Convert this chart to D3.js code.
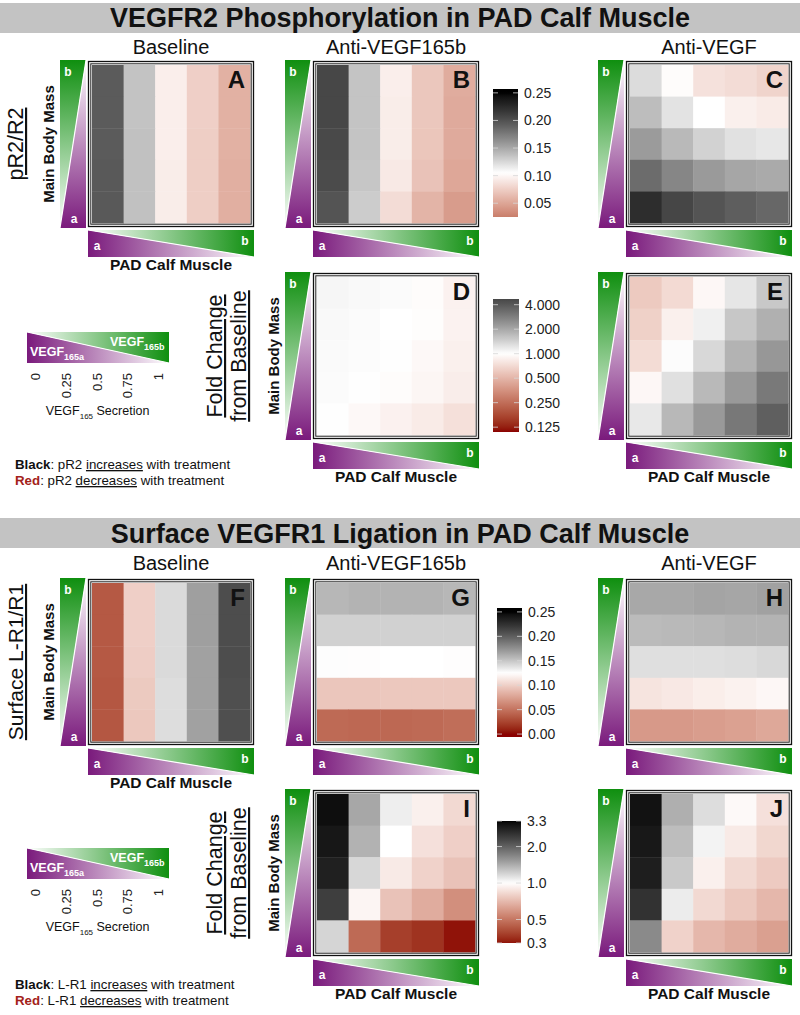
<!DOCTYPE html>
<html><head><meta charset="utf-8">
<script src="https://cdn.jsdelivr.net/npm/d3@7"></script>
<style>
body{margin:0;background:#fff}
svg text{font-family:"Liberation Sans",Arial,sans-serif;fill:#111}
</style>
</head><body>
<svg id="c" width="800" height="1015"></svg>
<script>
// ---------- DATA ----------
const colLevels = [0, 0.25, 0.5, 0.75, 1];      // PAD Calf Muscle VEGF165b fraction (a -> b)
const rowLevels = [1, 0.75, 0.5, 0.25, 0];      // Main Body Mass VEGF165b fraction (top b -> bottom a)

// pR2/R2 (rows top->bottom, columns left->right)
const panelA = [
  [0.194,0.136,0.095,0.076,0.057],
  [0.194,0.136,0.095,0.076,0.057],
  [0.194,0.137,0.095,0.075,0.057],
  [0.195,0.137,0.094,0.075,0.056],
  [0.195,0.137,0.094,0.075,0.056]];
const panelB = [
  [0.206,0.135,0.095,0.071,0.054],
  [0.206,0.135,0.094,0.071,0.053],
  [0.205,0.135,0.094,0.070,0.053],
  [0.204,0.134,0.092,0.068,0.051],
  [0.198,0.131,0.084,0.059,0.044]];
const panelC = [
  [0.123,0.103,0.087,0.084,0.079],
  [0.139,0.119,0.105,0.096,0.093],
  [0.157,0.141,0.128,0.120,0.117],
  [0.184,0.169,0.158,0.151,0.149],
  [0.223,0.207,0.198,0.192,0.187]];
// pR2 fold change from baseline
const panelD = [
  [1.07,1.05,1.03,0.97,0.88],
  [1.05,1.03,1.00,0.98,0.89],
  [1.04,1.02,1.01,0.94,0.87],
  [1.03,1.01,0.97,0.92,0.85],
  [1.01,0.94,0.88,0.83,0.75]];
const panelE = [
  [0.61,0.71,0.93,1.21,1.54],
  [0.65,0.87,1.12,1.55,1.87],
  [0.72,1.02,1.35,1.82,2.30],
  [0.93,1.27,1.74,2.26,2.97],
  [1.19,1.75,2.26,3.01,3.76]];
// Surface L-R1/R1
const panelF = [
  [0.036,0.100,0.141,0.168,0.209],
  [0.036,0.100,0.141,0.168,0.209],
  [0.036,0.099,0.141,0.167,0.209],
  [0.035,0.097,0.140,0.167,0.208],
  [0.035,0.096,0.140,0.167,0.208]];
const panelG = [
  [0.157,0.159,0.159,0.159,0.157],
  [0.145,0.145,0.145,0.145,0.145],
  [0.126,0.124,0.125,0.125,0.124],
  [0.095,0.095,0.096,0.096,0.096],
  [0.045,0.044,0.044,0.045,0.047]];
const panelH = [
  [0.164,0.164,0.166,0.165,0.167],
  [0.155,0.156,0.157,0.159,0.159],
  [0.139,0.139,0.139,0.140,0.142],
  [0.111,0.113,0.116,0.118,0.121],
  [0.071,0.071,0.073,0.075,0.079]];
// L-R1 fold change from baseline
const panelI = [
  [3.10,1.45,1.07,0.93,0.83],
  [2.96,1.38,1.00,0.86,0.79],
  [2.82,1.18,0.90,0.80,0.74],
  [2.39,0.95,0.74,0.66,0.57],
  [1.19,0.47,0.38,0.36,0.32]];
const panelJ = [
  [3.05,1.40,1.15,0.97,0.86],
  [2.95,1.32,1.05,0.90,0.82],
  [2.85,1.25,0.93,0.83,0.77],
  [2.55,1.08,0.83,0.76,0.70],
  [1.65,0.80,0.70,0.66,0.62]];

// colour bar ticks
const ticksR2 = [0.05,0.10,0.15,0.20,0.25];
const ticksFoldR2 = [0.125,0.25,0.5,1,2,4];
const ticksR1 = [0.00,0.05,0.10,0.15,0.20,0.25];
const ticksFoldR1 = [0.32,0.5,1,2,3.25];
const legendTicks = [0,0.25,0.5,0.75,1];

// ---------- SETUP ----------
const svg = d3.select("#c");
const defs = svg.append("defs");
const GREEN = "#0f8f0f", PURPLE = "#7a1a7c", DARKRED = "#8b0000";

function diverging(lo, mid, hi){
  return d3.scaleLinear().domain([lo,mid,hi]).range([DARKRED,"#ffffff","#000000"])
    .interpolate(d3.interpolateLab).clamp(true);
}
const sR2 = diverging(-0.04, 0.105, 0.25);
const sFoldR2 = diverging(-3.2, 0, 3.2);
const sR1 = diverging(0, 0.125, 0.25);
const sFoldR1 = diverging(-1.70, 0, 1.70);
const colR2 = v => sR2(v);
const colFoldR2 = v => sFoldR2(Math.log2(v));
const colR1 = v => sR1(v);
const colFoldR1 = v => sFoldR1(Math.log2(v));

function lg(id, x1,y1,x2,y2, stops){
  const g = defs.append("linearGradient").attr("id",id)
    .attr("x1",x1).attr("y1",y1).attr("x2",x2).attr("y2",y2);
  stops.forEach(([o,c])=>g.append("stop").attr("offset",o).attr("stop-color",c));
}
lg("gV",0,0,0,1,[[0,GREEN],[1,"#ffffff"]]);
lg("pV",0,1,0,0,[[0,PURPLE],[1,"#ffffff"]]);
lg("pH",0,0,1,0,[[0,PURPLE],[1,"#ffffff"]]);
lg("gH",1,0,0,0,[[0,GREEN],[1,"#ffffff"]]);

const S = 166;
const colX = [88, 313, 626];
const rowY = [61, 273, 579, 790];

function txt(x,y,s,size,opts={}){
  const t = svg.append("text").attr("x",x).attr("y",y).text(s)
    .attr("font-size",size).attr("text-anchor",opts.anchor||"middle");
  if(opts.bold) t.attr("font-weight","bold");
  if(opts.fill) t.style("fill",opts.fill);
  if(opts.rot) t.attr("transform",`rotate(-90,${x},${y})`);
  if(opts.ul) t.attr("text-decoration","underline");
  return t;
}

// Title bars
[[3,27,"VEGFR2 Phosphorylation in PAD Calf Muscle"],[518,543,"Surface VEGFR1 Ligation in PAD Calf Muscle"]]
 .forEach(([y,b,s])=>{
  svg.append("rect").attr("x",0).attr("y",y).attr("width",800).attr("height",30).attr("fill","#c3c3c3");
  txt(400,b,s,27,{bold:true});
 });

// sub titles
const subs = ["Baseline","Anti-VEGF165b","Anti-VEGF"];
[54,570].forEach(b=> subs.forEach((s,i)=> txt(colX[i]+S/2,b,s,20)));

function vTri(x0,y0,w,h){
  const g = svg.append("g");
  g.append("polygon").attr("points",[[x0,y0],[x0+w,y0],[x0,y0+h]].join(" ")).attr("fill","url(#gV)");
  g.append("polygon").attr("points",[[x0+w,y0],[x0+w,y0+h],[x0,y0+h]].join(" ")).attr("fill","url(#pV)");
  g.append("line").attr("x1",x0+w).attr("y1",y0).attr("x2",x0).attr("y2",y0+h).attr("stroke","#fff").attr("stroke-width",1.2);
  g.append("text").attr("x",x0+8).attr("y",y0+16).attr("text-anchor","middle").attr("font-size",12).attr("font-weight","bold").style("fill","#fff").text("b");
  g.append("text").attr("x",x0+14).attr("y",y0+h-5).attr("text-anchor","middle").attr("font-size",12).attr("font-weight","bold").style("fill","#fff").text("a");
}
function hBar(x0,y0,w,h){
  const g = svg.append("g");
  g.append("polygon").attr("points",[[x0,y0],[x0,y0+h],[x0+w,y0+h]].join(" ")).attr("fill","url(#pH)");
  g.append("polygon").attr("points",[[x0,y0],[x0+w,y0],[x0+w,y0+h]].join(" ")).attr("fill","url(#gH)");
  g.append("line").attr("x1",x0).attr("y1",y0).attr("x2",x0+w).attr("y2",y0+h).attr("stroke","#fff").attr("stroke-width",1.2);
  return g;
}

function heatmap(ci, ri, data, colorFn, letter, opts={}){
  const x0 = colX[ci], y0 = rowY[ri];
  const xs = d3.scaleBand().domain(colLevels).range([x0+4, x0+S-4]);
  const ys = d3.scaleBand().domain(rowLevels).range([y0+4, y0+S-4]);
  const cells = data.flatMap((row,i)=>row.map((v,j)=>({r:rowLevels[i], c:colLevels[j], v})));
  svg.append("g").selectAll("rect").data(cells).join("rect")
    .attr("x",d=>xs(d.c)).attr("y",d=>ys(d.r))
    .attr("width",xs.bandwidth()+0.4).attr("height",ys.bandwidth()+0.4)
    .attr("fill",d=>colorFn(d.v));
  svg.append("rect").attr("x",x0+0.5).attr("y",y0+0.5).attr("width",S-1).attr("height",S-1)
    .attr("fill","none").attr("stroke","#111").attr("stroke-width",1.3);
  svg.append("rect").attr("x",x0+2.8).attr("y",y0+2.8).attr("width",S-5.6).attr("height",S-5.6)
    .attr("fill","none").attr("stroke","#222").attr("stroke-width",1);
  txt(x0+S-9, y0+27, letter, 24, {bold:true, anchor:"end"});
  vTri(x0-28, y0-1, 26, S+2);
  const hb = hBar(x0, y0+S+3, S, 27);
  hb.append("text").attr("x",x0+9).attr("y",y0+S+3+20).attr("text-anchor","middle").attr("font-size",12).attr("font-weight","bold").style("fill","#fff").text("a");
  hb.append("text").attr("x",x0+S-9).attr("y",y0+S+3+15).attr("text-anchor","middle").attr("font-size",12).attr("font-weight","bold").style("fill","#fff").text("b");
  if(opts.pad) txt(x0+S/2, y0+S+43, "PAD Calf Muscle", 15.5, {bold:true});
  if(opts.mbm) txt(x0-34, y0+S/2, "Main Body Mass", 15, {bold:true, rot:true});
}

heatmap(0,0,panelA,colR2,"A",{pad:true,mbm:true});
heatmap(1,0,panelB,colR2,"B");
heatmap(2,0,panelC,colR2,"C");
heatmap(1,1,panelD,colFoldR2,"D",{pad:true,mbm:true});
heatmap(2,1,panelE,colFoldR2,"E",{pad:true});
heatmap(0,2,panelF,colR1,"F",{pad:true,mbm:true});
heatmap(1,2,panelG,colR1,"G");
heatmap(2,2,panelH,colR1,"H");
heatmap(1,3,panelI,colFoldR1,"I",{pad:true,mbm:true});
heatmap(2,3,panelJ,colFoldR1,"J",{pad:true});

// ---------- colour bars ----------
let cbId = 0;
function colorbar(x, yTop, yBot, w, axis, colorFn, ticks, fmt){
  const id = "cb"+(cbId++);
  const grad = defs.append("linearGradient").attr("id",id).attr("x1",0).attr("y1",1).attr("x2",0).attr("y2",0);
  d3.range(0,61).forEach(i=>{
    const t = i/60;
    const v = axis.invert(yBot - t*(yBot-yTop));
    grad.append("stop").attr("offset",t).attr("stop-color",colorFn(v));
  });
  svg.append("rect").attr("x",x).attr("y",yTop).attr("width",w).attr("height",yBot-yTop).attr("fill",`url(#${id})`);
  ticks.forEach(t=>{
    const y = axis(t);
    [[x,x+5],[x+w-5,x+w]].forEach(([a,b])=>svg.append("line").attr("x1",a).attr("x2",b).attr("y1",y).attr("y2",y)
      .attr("stroke","#d8d8d8").attr("stroke-width",1).attr("opacity",0.8));
    txt(x+w+6, y+5, fmt(t), 14, {anchor:"start", fill:"#222"});
  });
}
colorbar(493,89,217,25, d3.scaleLinear().domain([0.025,0.257]).range([217,89]), colR2, ticksR2, d=>d.toFixed(2));
colorbar(493,299,432,26, d3.scaleLog().base(2).domain([0.109,4.7]).range([432,299]), colFoldR2, ticksFoldR2, d=>d.toFixed(3));
colorbar(497,608,737,25, d3.scaleLinear().domain([-0.006,0.258]).range([737,608]), colR1, ticksR1, d=>d.toFixed(2));
colorbar(497,821,943,24, d3.scaleLog().base(2).domain([0.32,3.25]).range([943,821]), colFoldR1, ticksFoldR1, d=>d.toFixed(1));

// ---------- row labels ----------
txt(23, rowY[0]+S/2, "pR2/R2", 21.5, {rot:true, ul:true});
txt(23, rowY[2]+S/2, "Surface L-R1/R1", 21, {rot:true, ul:true});
[rowY[1], rowY[3]].forEach(y0=>{
  txt(222, y0+S/2, "Fold Change", 21.5, {rot:true, ul:true});
  txt(246, y0+S/2, "from Baseline", 21.5, {rot:true, ul:true});
});

// ---------- legends ----------
function legend(barTop, measure, blackY){
  const x0 = 27, w = 142, h = 31;
  const g = hBar(x0, barTop, w, h);
  const l1 = g.append("text").attr("x",30).attr("y",barTop+24).attr("font-size",12.5).attr("font-weight","bold").style("fill","#fff");
  l1.append("tspan").text("VEGF");
  l1.append("tspan").attr("dy",4).attr("font-size",9).text("165a");
  const l2 = g.append("text").attr("x",110).attr("y",barTop+14).attr("font-size",12.5).attr("font-weight","bold").style("fill","#fff");
  l2.append("tspan").text("VEGF");
  l2.append("tspan").attr("dy",4).attr("font-size",9).text("165b");
  const ls = d3.scaleLinear().domain([0,1]).range([35,158]);
  legendTicks.forEach(t=> txt(ls(t)+5, barTop+h+10, String(t), 13, {rot:true, anchor:"end", fill:"#222"}));
  const sec = svg.append("text").attr("x",97.5).attr("y",barTop+83).attr("text-anchor","middle").attr("font-size",12.5);
  sec.append("tspan").text("VEGF");
  sec.append("tspan").attr("dy",4).attr("font-size",8).text("165");
  sec.append("tspan").attr("dy",-4).text(" Secretion");
  const rows = [["Black","#111","increases"],["Red","#a3221a","decreases"]];
  rows.forEach(([w0,c,verb],i)=>{
    const t = svg.append("text").attr("x",15).attr("y",blackY+i*16).attr("font-size",13.3);
    t.append("tspan").attr("font-weight","bold").style("fill",c).text(w0);
    t.append("tspan").text(": "+measure+" ");
    t.append("tspan").attr("text-decoration","underline").text(verb);
    t.append("tspan").text(" with treatment");
  });
}
legend(332, "pR2", 469);
legend(848, "L-R1", 989);
</script>
</body></html>
